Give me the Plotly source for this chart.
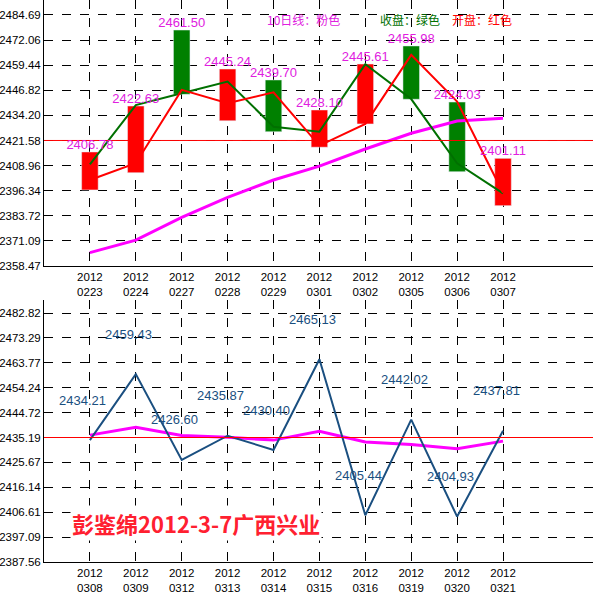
import plotly.graph_objects as go

dates1 = ["0223","0224","0227","0228","0229","0301","0302","0305","0306","0307"]
bar_hi = [2415.8,2438.9,2477.1,2457.5,2452.0,2436.9,2460.0,2469.1,2440.9,2412.6]
bar_lo = [2396.7,2405.4,2444.8,2431.5,2426.0,2418.2,2429.9,2442.3,2405.9,2388.8]
bar_col = ["red","red","green","red","green","red","red","green","green","red"]
close1 = [2409.6,2439.4,2445.3,2451.2,2428.5,2426.0,2459.9,2442.4,2410.1,2395.0]
open1 = [2401.7,2410.1,2447.0,2440.3,2445.8,2419.0,2429.9,2464.6,2441.1,2395.3]
ma1 = [2365.2,2371.5,2382.9,2393.0,2401.7,2408.7,2417.3,2425.2,2431.4,2432.7]
labels1 = ["2406.78","2422.63","2461.50","2445.24","2439.70","2428.10","2445.61","2455.98","2424.03","2401.11"]
ref1 = 2421.58
yt1 = [2358.47,2371.09,2383.72,2396.34,2408.96,2421.58,2434.20,2446.82,2459.44,2472.06,2484.69]

dates2 = ["0308","0309","0312","0313","0314","0315","0316","0319","0320","0321"]
vals2 = [2434.21,2459.43,2426.60,2435.87,2430.40,2465.13,2405.44,2442.02,2404.93,2437.81]
ma2 = [2436.1,2439.1,2436.0,2435.3,2434.2,2437.6,2433.5,2432.5,2430.9,2433.8]
ref2 = 2435.19
yt2 = [2387.56,2397.09,2406.61,2416.14,2425.67,2435.19,2444.72,2454.24,2463.77,2473.29,2482.82]

L = 44
W = 593 - L
def px(xp):
    return (xp - L) / W

x = list(range(10))
fig = go.Figure()
fig.add_trace(go.Bar(x=x, y=[h-l for h,l in zip(bar_hi,bar_lo)], base=bar_lo,
                     marker_color=bar_col, width=0.36, xaxis="x", yaxis="y"))
fig.add_trace(go.Scatter(x=x, y=ma1, mode="lines", line=dict(color="#ff00ff", width=3), xaxis="x", yaxis="y"))
fig.add_trace(go.Scatter(x=x, y=close1, mode="lines", line=dict(color="#007000", width=2), xaxis="x", yaxis="y"))
fig.add_trace(go.Scatter(x=x, y=open1, mode="lines", line=dict(color="red", width=2), xaxis="x", yaxis="y"))
fig.add_trace(go.Scatter(x=[-1, 10.96], y=[ref1, ref1], mode="lines", line=dict(color="red", width=1), xaxis="x", yaxis="y"))
fig.add_trace(go.Scatter(x=x, y=bar_hi, mode="text", text=labels1, textposition="top center",
                         textfont=dict(color="#e020e0", size=13, family="Liberation Sans"), xaxis="x", yaxis="y"))

fig.add_trace(go.Scatter(x=x, y=ma2, mode="lines", line=dict(color="#ff00ff", width=3), xaxis="x2", yaxis="y2"))
fig.add_trace(go.Scatter(x=x, y=vals2, mode="lines", line=dict(color="#1a4f80", width=2), xaxis="x2", yaxis="y2"))
fig.add_trace(go.Scatter(x=[-1, 10.96], y=[ref2, ref2], mode="lines", line=dict(color="red", width=1), xaxis="x2", yaxis="y2"))
for xi, v in zip(x, vals2):
    fig.add_annotation(x=xi, y=v, xref="x2", yref="y2", text=f"{v:.2f}", showarrow=False,
                       yshift=40, xshift=-7, font=dict(color="#1a4f80", size=13, family="Liberation Sans"))

fig.add_annotation(x=px(70), y=1-523/593, xref="paper", yref="paper", text="<b>彭鉴绵2012-3-7广西兴业</b>",
                   showarrow=False, xanchor="left", yanchor="middle", bgcolor="white",
                   font=dict(color="#ff2030", size=22, family="Noto Sans CJK SC"))
for tx, xl, col in [("10日线：粉色", 265, "#e020e0"), ("收盘：绿色", 378, "#007000"), ("开盘：红色", 450, "red")]:
    fig.add_annotation(x=px(xl), y=1-9/593, xref="paper", yref="paper", text=tx, showarrow=False,
                       xanchor="left", font=dict(color=col, size=12, family="Noto Sans CJK SC"))

axcommon = dict(range=[-1.0, 10.96], showgrid=True, gridcolor="black", griddash="dash", gridwidth=1,
                showline=True, linecolor="black", linewidth=1, tickvals=x, ticks="", zeroline=False,
                automargin=False, ticklabelstandoff=0,
                tickfont=dict(size=11.5, family="Liberation Sans", color="black"))
ycommon = dict(showgrid=True, gridcolor="black", griddash="dash", gridwidth=1, showline=True,
               linecolor="black", linewidth=1, ticks="", zeroline=False, automargin=False,
               ticklabelstandoff=0,
               tickfont=dict(size=11.5, family="Liberation Sans", color="black"))
fig.update_layout(
    width=593, height=593, margin=dict(l=L, r=0, t=0, b=0, autoexpand=False), paper_bgcolor="white",
    plot_bgcolor="white", showlegend=False,
    xaxis=dict(axcommon, domain=[0, 1], anchor="y", ticktext=[f"2012<br>{d}" for d in dates1]),
    yaxis=dict(ycommon, domain=[1-266/593, 1], range=[2358.47, 2492.2], tickvals=yt1,
               ticktext=[f"{v:.2f}" for v in yt1]),
    xaxis2=dict(axcommon, domain=[0, 1], anchor="y2", ticktext=[f"2012<br>{d}" for d in dates2]),
    yaxis2=dict(ycommon, domain=[31/593, 1-300/593], range=[2387.56, 2487.8], tickvals=yt2,
                ticktext=[f"{v:.2f}" for v in yt2]),
)
fig.write_html("out.html", config={"displayModeBar": False},
               post_script="document.body.style.margin='0';document.body.style.overflow='hidden';")
